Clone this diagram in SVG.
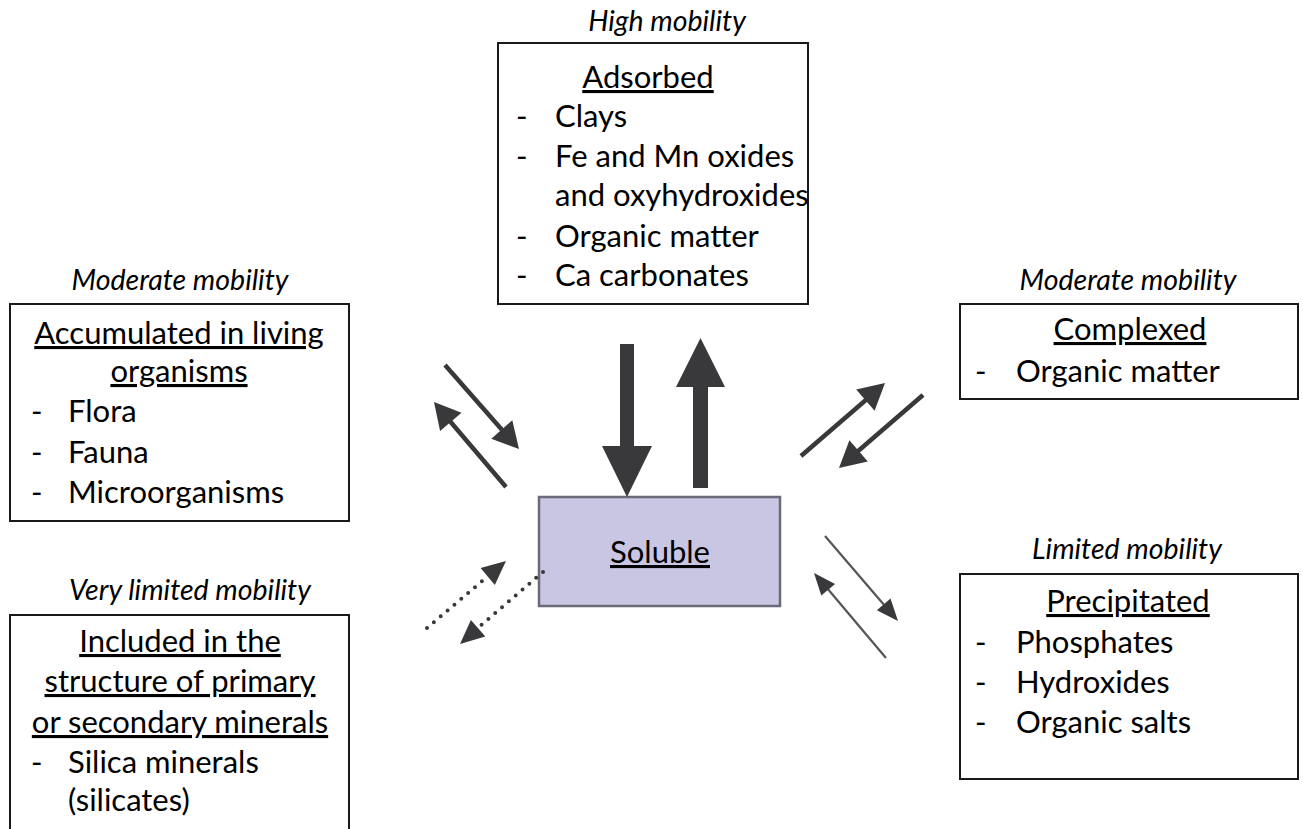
<svg xmlns="http://www.w3.org/2000/svg" width="1303" height="829" viewBox="0 0 1303 829">
<style>
  .box{fill:#ffffff;stroke:#1a1a1a;stroke-width:2}
  .t{font-family:Lato,"Open Sans","Liberation Sans",sans-serif;font-size:31px;fill:#000}
  .h{text-decoration:underline;text-anchor:middle}
  .lab{font-family:Lato,"Open Sans","Liberation Sans",sans-serif;font-size:28.5px;font-style:italic;fill:#000;text-anchor:middle}
  .ar{fill:#39393b}
  .ln{stroke:#39393b;stroke-width:4.5;fill:none}
  .thin{stroke:#555557;stroke-width:2.2;fill:none}
  .dot{stroke:#39393b;stroke-width:4;stroke-linecap:round;stroke-dasharray:0 9;fill:none}
</style>
<rect width="1303" height="829" fill="#ffffff"/>

<g id="adsorbed">
  <text class="lab" x="667" y="31">High mobility</text>
  <rect class="box" x="498" y="43" width="310" height="261"/>
  <text class="t h" x="648" y="88">Adsorbed</text>
  <text class="t" x="516" y="127">-</text><text class="t" x="555" y="127">Clays</text>
  <text class="t" x="516" y="167">-</text><text class="t" x="555" y="167">Fe and Mn oxides</text>
  <text class="t" x="555" y="206">and oxyhydroxides</text>
  <text class="t" x="516" y="247">-</text><text class="t" x="555" y="247">Organic matter</text>
  <text class="t" x="516" y="286">-</text><text class="t" x="555" y="286">Ca carbonates</text>
</g>

<g id="accumulated">
  <text class="lab" x="180" y="290">Moderate mobility</text>
  <rect class="box" x="10" y="304" width="339" height="217"/>
  <text class="t h" x="179" y="344">Accumulated in living</text>
  <text class="t h" x="179" y="382">organisms</text>
  <text class="t" x="31" y="422">-</text><text class="t" x="68" y="422">Flora</text>
  <text class="t" x="31" y="463">-</text><text class="t" x="68" y="463">Fauna</text>
  <text class="t" x="31" y="503">-</text><text class="t" x="68" y="503">Microorganisms</text>
</g>

<g id="included">
  <text class="lab" x="190" y="600">Very limited mobility</text>
  <path class="box" d="M10,840 V615 H349 V840" />
  <text class="t h" x="180" y="652">Included in the</text>
  <text class="t h" x="180" y="692">structure of primary</text>
  <text class="t h" x="180" y="733">or secondary minerals</text>
  <text class="t" x="31" y="773">-</text><text class="t" x="68" y="773">Silica minerals</text>
  <text class="t" x="68" y="811">(silicates)</text>
</g>

<g id="complexed">
  <text class="lab" x="1128" y="290">Moderate mobility</text>
  <rect class="box" x="960" y="304" width="338" height="95"/>
  <text class="t h" x="1130" y="340">Complexed</text>
  <text class="t" x="975" y="382">-</text><text class="t" x="1016" y="382">Organic matter</text>
</g>

<g id="precipitated">
  <text class="lab" x="1127" y="559">Limited mobility</text>
  <rect class="box" x="960" y="574" width="338" height="205"/>
  <text class="t h" x="1128" y="612">Precipitated</text>
  <text class="t" x="975" y="653">-</text><text class="t" x="1016" y="653">Phosphates</text>
  <text class="t" x="975" y="693">-</text><text class="t" x="1016" y="693">Hydroxides</text>
  <text class="t" x="975" y="733">-</text><text class="t" x="1016" y="733">Organic salts</text>
</g>

<g id="soluble">
  <rect x="539" y="497" width="241" height="109" fill="#c8c6e2" stroke="#6a6a78" stroke-width="2.5"/>
  <text class="t h" x="660" y="563" fill="#1a1a2e">Soluble</text>
</g>

<g id="connectors">
  <rect class="ar" x="620" y="344" width="14" height="104"/>
  <polygon class="ar" points="602,446 652,446 627,497"/>
  <rect class="ar" x="693" y="385" width="15" height="103"/>
  <polygon class="ar" points="676,387 725,387 700.5,338"/>
  <line class="ln" x1="445" y1="365" x2="503" y2="431"/>
  <polygon class="ar" points="491.3,438.7 512.3,420.3 519,449"/>
  <line class="ln" x1="506" y1="487" x2="449" y2="420"/>
  <polygon class="ar" points="461.5,412.7 440.1,430.9 434,402"/>
  <line class="ln" x1="801" y1="456" x2="867" y2="399"/>
  <polygon class="ar" points="874.6,410.7 856.2,389.5 885,383"/>
  <line class="ln" x1="923" y1="395" x2="857" y2="452"/>
  <polygon class="ar" points="849.4,440.3 867.8,461.5 839,468"/>
  <line class="thin" x1="825" y1="536" x2="885" y2="606"/>
  <polygon class="ar" points="876.9,610.2 890.5,598.4 898,621"/>
  <line class="thin" x1="886" y1="658" x2="827" y2="588"/>
  <polygon class="ar" points="835.1,584 821.3,595.6 814,573"/>
  <line class="dot" x1="427" y1="628" x2="487" y2="577"/>
  <polygon class="ar" points="494.8,584.9 480.6,568.1 506,561"/>
  <line class="dot" x1="543" y1="572" x2="479" y2="627"/>
  <polygon class="ar" points="470.9,620 485.3,636.6 460,644"/>
</g>
</svg>
